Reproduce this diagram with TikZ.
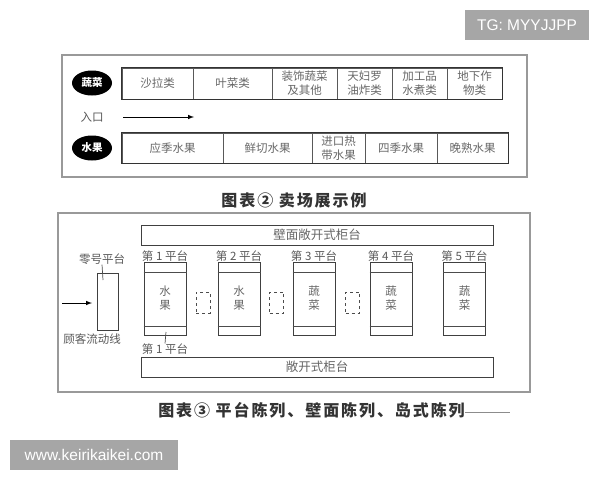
\documentclass[tikz,border=0pt]{standalone}
\usepackage{fontspec}
\setmainfont{Noto Sans CJK SC}
\newfontfamily\latinfont{Liberation Sans}
\newfontfamily\capfont{Noto Sans CJK SC}[LetterSpace=12]
\usetikzlibrary{shapes.geometric}

\begin{document}
\begin{tikzpicture}[x=1pt,y=-1pt,
  panel/.style={draw=black!40,line width=1.2pt},
  rowbox/.style={draw=black!80,line width=1.4pt},
  cell/.style={draw=black!65,line width=0.7pt,inner sep=0pt,align=center,text=black!60,font=\fontsize{11.5}{14}\selectfont},
  tag/.style={ellipse,fill=black,inner sep=0pt,minimum width=40pt,minimum height=25pt,text=white,font=\fontsize{10.5}{12}\selectfont\bfseries},
  counter/.style={draw=black!75,line width=1pt,minimum width=352pt,minimum height=20pt,inner sep=0pt,text=black!60,font=\fontsize{12.5}{14}\selectfont},
  plat/.style={draw=black!75,line width=1pt,minimum width=42pt,minimum height=73pt,inner sep=0pt,align=center,text=black!60,font=\fontsize{11.5}{14}\selectfont},
  spare/.style={draw=black!70,dashed,line width=0.8pt,minimum width=14pt,minimum height=21pt,inner sep=0pt},
  lab/.style={text=black!65,inner sep=0pt,font=\fontsize{11.5}{13}\selectfont},
  caption/.style={inner sep=0pt,text=black!80,font=\capfont\fontsize{16}{18}\selectfont\bfseries},
  wmark/.style={fill=black!35,inner sep=0pt,text=white,font=\latinfont\fontsize{15.5}{17}\selectfont}]
\useasboundingbox (0,0) rectangle (600,480);
% display example
\draw[panel] (62,55) rectangle (527,177);
\node[tag] (veg) at (92,83) {蔬菜};
\node[cell,minimum width=71pt,minimum height=31pt] (v1) at (157.5,83.5) {沙拉类};
\node[cell,minimum width=79pt,minimum height=31pt] (v2) at (232.5,83.5) {叶菜类};
\node[cell,minimum width=65pt,minimum height=31pt] (v3) at (304.5,83.5) {装饰蔬菜\\及其他};
\node[cell,minimum width=55pt,minimum height=31pt] (v4) at (364.5,83.5) {天妇罗\\油炸类};
\node[cell,minimum width=55pt,minimum height=31pt] (v5) at (419.5,83.5) {加工品\\水煮类};
\node[cell,minimum width=55pt,minimum height=31pt] (v6) at (474.5,83.5) {地下作\\物类};
\draw[rowbox] (v1.north west) rectangle (v6.south east);
\node[lab] (entry) at (92,117) {入口};
\coordinate (in0) at (123,117);
\coordinate (in1) at (194,117);
\draw[-latex,line width=1pt] (in0) -- (in1);
\node[tag] (fruit) at (92,148) {水果};
\node[cell,minimum width=101pt,minimum height=30pt] (f1) at (172.5,148) {应季水果};
\node[cell,minimum width=89pt,minimum height=30pt] (f2) at (267.5,148) {鲜切水果};
\node[cell,minimum width=53pt,minimum height=30pt] (f3) at (338.5,148) {进口热\\带水果};
\node[cell,minimum width=72pt,minimum height=30pt] (f4) at (401,148) {四季水果};
\node[cell,minimum width=71pt,minimum height=30pt] (f5) at (472.5,148) {晚熟水果};
\draw[rowbox] (f1.north west) rectangle (f5.south east);
\node[caption] (cap2) at (294,200) {图表② 卖场展示例};
% platform layout
\draw[panel] (58,213) rectangle (530,392);
\node[counter] (wall) at (317,235) {壁面敞开式柜台};
\node[counter] (open) at (317,367) {敞开式柜台};
\node[plat] (z0) at (107.5,301.5) [minimum width=21pt,minimum height=57pt] {};
\node[lab] (zl) at (102,259) {零号平台};
\coordinate (zin) at (103,280);
\draw[black!70,line width=0.7pt] (zl.south) -- (zin);
\coordinate (fl0) at (62,303);
\coordinate (fl1) at (92,303);
\draw[-latex,line width=1pt] (fl0) -- (fl1);
\node[lab] (flow) at (92,339) {顾客流动线};
\node[plat] (p1) at (165,298.5) {水\\果};
\node[plat] (p2) at (239,298.5) {水\\果};
\node[plat] (p3) at (314,298.5) {蔬\\菜};
\node[plat] (p4) at (391,298.5) {蔬\\菜};
\node[plat] (p5) at (464.5,298.5) {蔬\\菜};
\draw[black!70,line width=0.7pt] ([yshift=-11pt]p1.north west) -- ([yshift=-11pt]p1.north east);
\draw[black!70,line width=0.7pt] ([yshift=9pt]p1.south west) -- ([yshift=9pt]p1.south east);
\draw[black!70,line width=0.7pt] ([yshift=-11pt]p2.north west) -- ([yshift=-11pt]p2.north east);
\draw[black!70,line width=0.7pt] ([yshift=9pt]p2.south west) -- ([yshift=9pt]p2.south east);
\draw[black!70,line width=0.7pt] ([yshift=-11pt]p3.north west) -- ([yshift=-11pt]p3.north east);
\draw[black!70,line width=0.7pt] ([yshift=9pt]p3.south west) -- ([yshift=9pt]p3.south east);
\draw[black!70,line width=0.7pt] ([yshift=-11pt]p4.north west) -- ([yshift=-11pt]p4.north east);
\draw[black!70,line width=0.7pt] ([yshift=9pt]p4.south west) -- ([yshift=9pt]p4.south east);
\draw[black!70,line width=0.7pt] ([yshift=-11pt]p5.north west) -- ([yshift=-11pt]p5.north east);
\draw[black!70,line width=0.7pt] ([yshift=9pt]p5.south west) -- ([yshift=9pt]p5.south east);
\node[lab] (l1) at (165,256) {第 1 平台};
\node[lab] (l2) at (239,256) {第 2 平台};
\node[lab] (l3) at (314,256) {第 3 平台};
\node[lab] (l4) at (391,256) {第 4 平台};
\node[lab] (l5) at (464.5,256) {第 5 平台};
\node[spare] (s1) at (203,302.5) {};
\node[spare] (s2) at (276.5,302.5) {};
\node[spare] (s3) at (352.5,302.5) {};
\node[lab] (lb) at (165,349) {第 1 平台};
\coordinate (pin) at (166,332);
\draw[black!70,line width=0.7pt] (pin) -- (lb.north);
\node[caption] (cap3) at (311.5,410) {图表③ 平台陈列、壁面陈列、岛式陈列};
\coordinate (tail) at (510,412);
\draw[black!45,line width=1pt] (cap3.east |- tail) -- (tail);
% watermarks
\node[wmark,minimum width=124pt,minimum height=30pt] (tg) at (527,25) {TG: MYYJJPP};
\node[wmark,minimum width=168pt,minimum height=30pt] (web) at (94,455) {www.keirikaikei.com};
\end{tikzpicture}
\end{document}
